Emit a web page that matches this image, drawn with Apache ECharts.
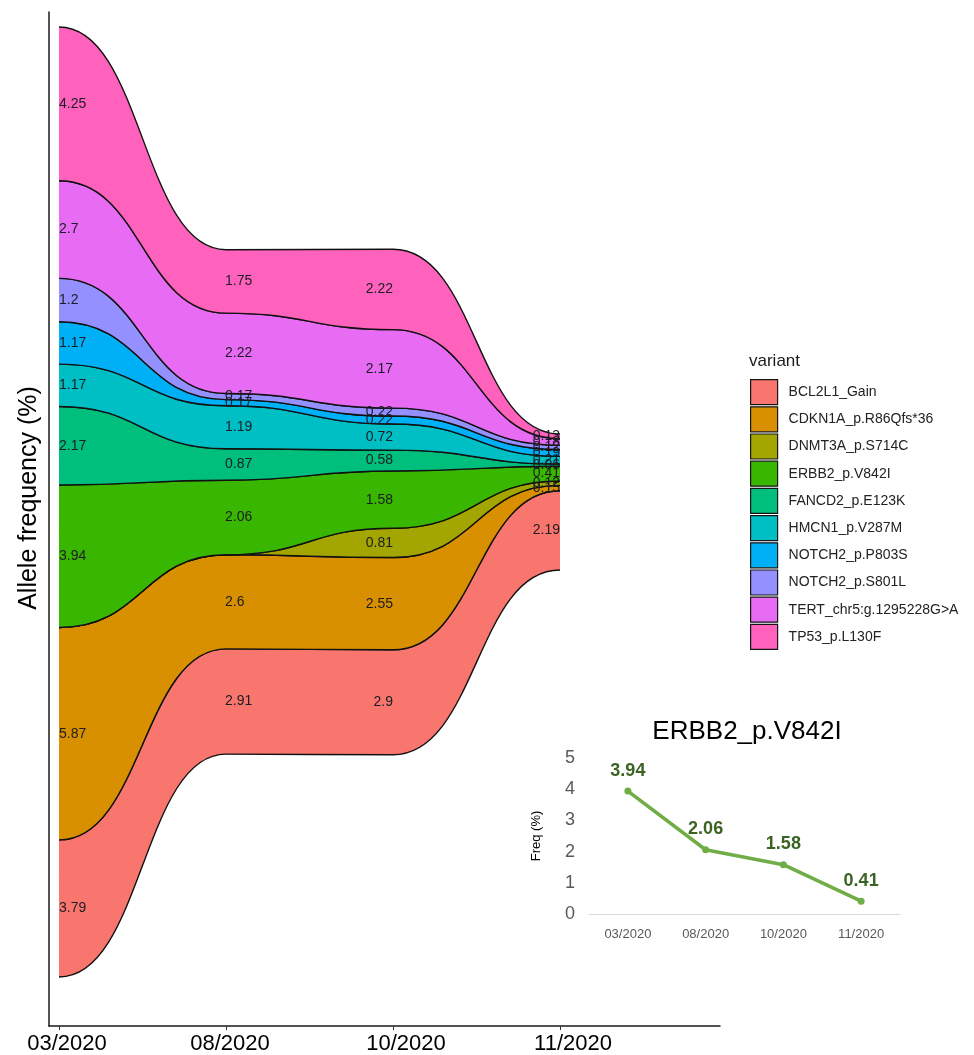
<!DOCTYPE html>
<html><head><meta charset="utf-8">
<script src="https://cdn.jsdelivr.net/npm/echarts@6/dist/echarts.min.js"></script>
<style>html,body{margin:0;padding:0;background:#fff}#c{width:974px;height:1055px}</style>
</head><body><div id="c"></div>
<script>
// ---- data ----
const dates = ['03/2020', '08/2020', '10/2020', '11/2020'];
const variants = ['BCL2L1_Gain', 'CDKN1A_p.R86Qfs*36', 'DNMT3A_p.S714C', 'ERBB2_p.V842I', 'FANCD2_p.E123K',
  'HMCN1_p.V287M', 'NOTCH2_p.P803S', 'NOTCH2_p.S801L', 'TERT_chr5:g.1295228G>A', 'TP53_p.L130F'];
const BCL2L1_Gain   = [3.79, 2.91, 2.90, 2.19];
const CDKN1A        = [5.87, 2.60, 2.55, 0.15];
const DNMT3A        = [0.00, 0.00, 0.81, 0.12];
const ERBB2         = [3.94, 2.06, 1.58, 0.41];
const FANCD2        = [2.17, 0.87, 0.58, 0.06];
const HMCN1         = [1.17, 1.19, 0.72, 0.21];
const NOTCH2_P803S  = [1.17, 0.17, 0.22, 0.19];
const NOTCH2_S801L  = [1.20, 0.17, 0.22, 0.12];
const TERT          = [2.70, 2.22, 2.17, 0.18];
const TP53          = [4.25, 1.75, 2.22, 0.13];
const values = [BCL2L1_Gain, CDKN1A, DNMT3A, ERBB2, FANCD2, HMCN1, NOTCH2_P803S, NOTCH2_S801L, TERT, TP53];
const colors = ['#F8766D', '#D89000', '#A3A500', '#39B600', '#00BF7D', '#00BFC4', '#00B0F6', '#9590FF', '#E76BF3', '#FF62BC'];

// ---- centred stacking (streamgraph) ----
const totals = dates.map((d, t) => values.reduce((s, v) => s + v[t], 0));
const bands = [];
const running = totals.map(tt => -tt / 2);
values.forEach((v, vi) => {
  bands.push(dates.map((d, t) => {
    const lo = running[t];
    const hi = lo + v[t];
    running[t] = hi;
    return [t, lo, hi, v[t]];
  }));
});
const labelData = [];
bands.forEach(b => b.forEach(p => { if (p[3] > 0) labelData.push([p[0], (p[1] + p[2]) / 2, p[3]]); }));

const FONT = '"Liberation Sans", Arial, sans-serif';
const K = 0.5;
function curve(pts, start) {
  let d = (start ? 'M' : 'L') + pts[0][0] + ',' + pts[0][1];
  for (let i = 1; i < pts.length; i++) {
    const a = pts[i - 1], c = pts[i];
    const h = (c[0] - a[0]) * K;
    d += ' C' + (a[0] + h) + ',' + a[1] + ' ' + (c[0] - h) + ',' + c[1] + ' ' + c[0] + ',' + c[1];
  }
  return d;
}
function bandRenderer(vi) {
  return function (params, api) {
    if (params.dataIndex !== 0) return null;
    const b = bands[vi];
    const top = b.map(p => api.coord([p[0], p[2]]));
    const bot = b.map(p => api.coord([p[0], p[1]]));
    const fillPath = curve(top, true) + ' ' + curve(bot.slice().reverse(), false) + ' Z';
    return {
      type: 'group',
      children: [
        { type: 'path', shape: { pathData: fillPath }, style: { fill: colors[vi], stroke: 'none' } },
        { type: 'path', shape: { pathData: curve(top, true) }, style: { fill: 'none', stroke: '#111', lineWidth: 1.4 } },
        { type: 'path', shape: { pathData: curve(bot, true) }, style: { fill: 'none', stroke: '#111', lineWidth: 1.4 } }
      ]
    };
  };
}
const labelAlign = ['left', 'left', 'right', 'right'];
const labelDx = [0, -1, 0, 0];

const series = variants.map((name, vi) => ({
  type: 'custom',
  name: name,
  xAxisIndex: 0, yAxisIndex: 0,
  itemStyle: { color: colors[vi] },
  data: bands[vi].map(p => [p[0], p[1], p[2]]),
  encode: { x: 0, y: [1, 2] },
  renderItem: bandRenderer(vi),
  z: 2
}));
series.push({
  type: 'custom',
  name: 'labels',
  xAxisIndex: 0, yAxisIndex: 0,
  data: labelData,
  encode: { x: 0, y: 1 },
  z: 5,
  renderItem: function (params, api) {
    const t = api.value(0);
    const p = api.coord([t, api.value(1)]);
    return {
      type: 'text',
      x: p[0] + labelDx[t], y: p[1],
      style: { text: String(api.value(2)), fill: '#1c1c24', font: '14px ' + FONT, align: labelAlign[t], verticalAlign: 'middle' }
    };
  }
});
series.push({
  type: 'line',
  name: 'ERBB2 trend',
  xAxisIndex: 1, yAxisIndex: 1,
  data: ERBB2,
  symbol: 'circle', symbolSize: 7,
  lineStyle: { color: '#70AD47', width: 3.5 },
  itemStyle: { color: '#70AD47' },
  label: { show: true, position: 'top', distance: 8, fontSize: 18, fontWeight: 'bold', color: '#3B6424', fontFamily: FONT }
});

const labelShift = ['{a|', '{b|', '{c|', '{c|'];
const option = {
  animation: false,
  backgroundColor: '#ffffff',
  textStyle: { fontFamily: FONT },
  grid: [
    { left: 49, top: 12, right: 254, bottom: 29 },
    { left: 589, top: 758, width: 311, height: 156 }
  ],
  xAxis: [
    {
      type: 'value', gridIndex: 0, min: -0.06, max: 3.958,
      splitLine: { show: false },
      axisLine: { show: true, onZero: false, lineStyle: { color: '#1a1a1a', width: 1.5 } },
      axisTick: { show: true, length: 4, lineStyle: { color: '#333' }, customValues: [0, 1, 2, 3] },
      axisLabel: {
        show: true, customValues: [0, 1, 2, 3], margin: 7,
        formatter: v => labelShift[v] + dates[v] + '}',
        rich: {
          a: { fontSize: 22, color: '#000', fontFamily: FONT, padding: [0, 0, 0, 16] },
          b: { fontSize: 22, color: '#000', fontFamily: FONT, padding: [0, 0, 0, 8] },
          c: { fontSize: 22, color: '#000', fontFamily: FONT, padding: [0, 0, 0, 26] }
        }
      }
    },
    {
      type: 'category', gridIndex: 1, data: dates, boundaryGap: true,
      axisLine: { show: true, lineStyle: { color: '#d9d9d9', width: 1 } },
      axisTick: { show: false },
      axisLabel: { color: '#595959', fontSize: 13, margin: 14, fontFamily: FONT }
    }
  ],
  yAxis: [
    {
      type: 'value', gridIndex: 0, min: -14.483, max: 13.543,
      splitLine: { show: false },
      axisLine: { show: true, onZero: false, lineStyle: { color: '#1a1a1a', width: 1.5 } },
      axisTick: { show: false }, axisLabel: { show: false },
      name: 'Allele frequency (%)', nameLocation: 'middle', nameRotate: 90, nameGap: 7,
      nameTextStyle: { fontSize: 25, color: '#000', fontFamily: FONT, verticalAlign: 'bottom', padding: [0, 0, 0, 42] }
    },
    {
      type: 'value', gridIndex: 1, min: 0, max: 5, interval: 1,
      splitLine: { show: false },
      axisLine: { show: false }, axisTick: { show: false },
      axisLabel: { color: '#595959', fontSize: 18, margin: 14, fontFamily: FONT },
      name: 'Freq (%)', nameLocation: 'middle', nameRotate: 90, nameGap: 46,
      nameTextStyle: { fontSize: 13, color: '#000', fontFamily: FONT }
    }
  ],
  legend: {
    data: variants,
    orient: 'vertical', left: 750, top: 379, padding: 0,
    icon: 'rect', itemWidth: 27, itemHeight: 25, itemGap: 1,
    selectedMode: false,
    itemStyle: { borderColor: '#151515', borderWidth: 1.2 },
    textStyle: { fontSize: 14, color: '#222', fontFamily: FONT, padding: [0, 0, 0, 6] }
  },
  graphic: [
    { type: 'text', x: 749, y: 361, style: { text: 'variant', font: '17px ' + FONT, fill: '#1a1a1a', align: 'left', verticalAlign: 'middle' } },
    { type: 'text', x: 747, y: 732, style: { text: 'ERBB2_p.V842I', font: '26px ' + FONT, fill: '#000', align: 'center', verticalAlign: 'middle' } }
  ],
  series: series
};
const chart = echarts.init(document.getElementById('c'));
chart.setOption(option);
</script>
</body></html>
